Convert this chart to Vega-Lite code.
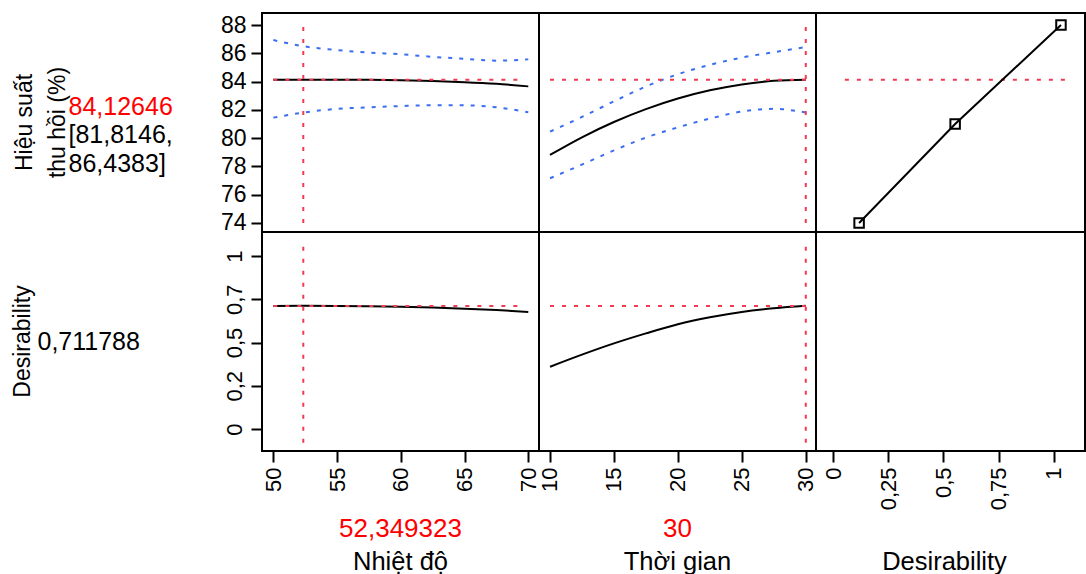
{
  "$schema": "https://vega.github.io/schema/vega-lite/v6.json",
  "padding": {"left": 0, "top": 12, "right": 0, "bottom": 0},
  "background": "white",
  "config": {
    "font": "Liberation Sans",
    "view": {"stroke": "#000000", "strokeWidth": 2},
    "axis": {"domain": false, "grid": false, "ticks": true, "tickColor": "#000000", "tickWidth": 2, "tickSize": 11, "labelPadding": 5, "labelFont": "Liberation Sans", "labelFontSize": 22, "labelColor": "#000000", "labelFlush": false, "labelOverlap": false, "titleFont": "Liberation Sans", "titleFontWeight": "normal", "titleColor": "#000000"}
  },
  "datasets": {
    "nhietdo": [
      {"nhiet_do": 50, "hieu_suat": 84.12, "can_duoi": 81.45, "can_tren": 86.94, "desirability": 0.711},
      {"nhiet_do": 52.35, "hieu_suat": 84.13, "can_duoi": 81.81, "can_tren": 86.5, "desirability": 0.712},
      {"nhiet_do": 55, "hieu_suat": 84.13, "can_duoi": 82.07, "can_tren": 86.23, "desirability": 0.711},
      {"nhiet_do": 57.5, "hieu_suat": 84.12, "can_duoi": 82.18, "can_tren": 86.05, "desirability": 0.71},
      {"nhiet_do": 60, "hieu_suat": 84.09, "can_duoi": 82.27, "can_tren": 85.93, "desirability": 0.707},
      {"nhiet_do": 62.5, "hieu_suat": 84.04, "can_duoi": 82.32, "can_tren": 85.75, "desirability": 0.702},
      {"nhiet_do": 65, "hieu_suat": 83.96, "can_duoi": 82.32, "can_tren": 85.61, "desirability": 0.696},
      {"nhiet_do": 67.5, "hieu_suat": 83.84, "can_duoi": 82.18, "can_tren": 85.48, "desirability": 0.688},
      {"nhiet_do": 70, "hieu_suat": 83.66, "can_duoi": 81.83, "can_tren": 85.57, "desirability": 0.677}
    ],
    "thoigian": [
      {"thoi_gian": 10, "hieu_suat": 78.81, "can_duoi": 77.16, "can_tren": 80.46, "desirability": 0.36},
      {"thoi_gian": 12.5, "hieu_suat": 80.06, "can_duoi": 78.13, "can_tren": 81.5, "desirability": 0.43},
      {"thoi_gian": 15, "hieu_suat": 81.14, "can_duoi": 79.13, "can_tren": 82.6, "desirability": 0.495},
      {"thoi_gian": 17.5, "hieu_suat": 82.05, "can_duoi": 80.04, "can_tren": 83.65, "desirability": 0.553},
      {"thoi_gian": 20, "hieu_suat": 82.8, "can_duoi": 80.76, "can_tren": 84.52, "desirability": 0.606},
      {"thoi_gian": 22.5, "hieu_suat": 83.38, "can_duoi": 81.38, "can_tren": 85.18, "desirability": 0.646},
      {"thoi_gian": 25, "hieu_suat": 83.8, "can_duoi": 81.88, "can_tren": 85.7, "desirability": 0.677},
      {"thoi_gian": 27.5, "hieu_suat": 84.05, "can_duoi": 82.07, "can_tren": 86.08, "desirability": 0.698},
      {"thoi_gian": 30, "hieu_suat": 84.13, "can_duoi": 81.81, "can_tren": 86.44, "desirability": 0.712}
    ],
    "hamd": [
      {"desirability": 0.1175, "hieu_suat": 74},
      {"desirability": 0.553, "hieu_suat": 81},
      {"desirability": 1.033, "hieu_suat": 88}
    ],
    "hientai": [
      {"nhiet_do": 52.349323, "thoi_gian": 30, "hieu_suat": 84.12646, "desirability": 0.711788}
    ]
  },
  "bounds": "flush",
  "columns": 4,
  "spacing": 0,
  "concat": [
    {
      "width": 262, "height": 219, "view": {"stroke": null, "fill": "transparent"},
      "resolve": {"scale": {"x": "independent", "y": "independent", "color": "independent"}},
      "layer": [
        {
          "data": {"values": [{"dong": 1, "nhan": "Hiệu suất"}, {"dong": 2, "nhan": "thu hồi (%)"}]},
          "mark": {"type": "text", "angle": 270, "align": "center", "baseline": "middle", "fontSize": 23, "color": "#000000"},
          "encoding": {
            "x": {"field": "dong", "type": "ordinal", "scale": {"type": "point", "range": [25, 57.5], "padding": 0}, "axis": null},
            "text": {"field": "nhan"}
          }
        },
        {
          "data": {"values": [
            {"dong": 1, "nhan": "84,12646", "loai": "du_doan"},
            {"dong": 2, "nhan": "[81,8146,", "loai": "khoang"},
            {"dong": 3, "nhan": "86,4383]", "loai": "khoang"}
          ]},
          "mark": {"type": "text", "align": "left", "baseline": "middle", "fontSize": 25},
          "encoding": {
            "x": {"datum": 0.2615, "type": "quantitative", "scale": {"domain": [0, 1]}, "axis": null},
            "y": {"field": "dong", "type": "ordinal", "scale": {"type": "point", "range": [93.5, 150.5], "padding": 0}, "axis": null},
            "text": {"field": "nhan"},
            "color": {"field": "loai", "type": "nominal", "scale": {"domain": ["du_doan", "khoang"], "range": ["#ff0000", "#000000"]}, "legend": null}
          }
        }
      ]
    },
    {
      "width": 277, "height": 219,
      "layer": [
        {"data": {"name": "nhietdo"}, "mark": {"type": "line", "color": "#3a6ef2", "strokeDash": [4, 7], "strokeWidth": 2, "interpolate": "monotone"},
         "encoding": {
           "x": {"field": "nhiet_do", "type": "quantitative", "scale": {"domain": [49.11, 70.84], "nice": false, "zero": false}, "axis": null},
           "y": {"field": "can_tren", "type": "quantitative", "scale": {"domain": [73.36, 88.85], "nice": false, "zero": false}, "axis": {"title": null, "values": [74, 76, 78, 80, 82, 84, 86, 88], "tickCount": 12, "labelFontSize": 23, "labelOverlap": false}}}},
        {"data": {"name": "nhietdo"}, "mark": {"type": "line", "color": "#3a6ef2", "strokeDash": [4, 7], "strokeWidth": 2, "interpolate": "monotone"},
         "encoding": {"x": {"field": "nhiet_do", "type": "quantitative"}, "y": {"field": "can_duoi", "type": "quantitative"}}},
        {"data": {"name": "nhietdo"}, "mark": {"type": "line", "color": "#000000", "strokeWidth": 2, "interpolate": "monotone"},
         "encoding": {"x": {"field": "nhiet_do", "type": "quantitative"}, "y": {"field": "hieu_suat", "type": "quantitative"}}},
        {"data": {"name": "hientai"}, "mark": {"type": "rule", "color": "#f23a50", "strokeDash": [4, 8], "strokeWidth": 2},
         "encoding": {"x": {"field": "nhiet_do", "type": "quantitative"}, "y": {"datum": 74}, "y2": {"datum": 88}}},
        {"data": {"name": "hientai"}, "mark": {"type": "rule", "color": "#f23a50", "strokeDash": [4, 8], "strokeWidth": 2},
         "encoding": {"y": {"field": "hieu_suat", "type": "quantitative"}, "x": {"datum": 50}, "x2": {"datum": 69.5}}}
      ]
    },
    {
      "width": 277, "height": 219,
      "layer": [
        {"data": {"name": "thoigian"}, "mark": {"type": "line", "color": "#3a6ef2", "strokeDash": [4, 7], "strokeWidth": 2, "interpolate": "monotone"},
         "encoding": {
           "x": {"field": "thoi_gian", "type": "quantitative", "scale": {"domain": [9.14, 30.8], "nice": false, "zero": false}, "axis": null},
           "y": {"field": "can_tren", "type": "quantitative", "scale": {"domain": [73.36, 88.85], "nice": false, "zero": false}, "axis": null}}},
        {"data": {"name": "thoigian"}, "mark": {"type": "line", "color": "#3a6ef2", "strokeDash": [4, 7], "strokeWidth": 2, "interpolate": "monotone"},
         "encoding": {"x": {"field": "thoi_gian", "type": "quantitative"}, "y": {"field": "can_duoi", "type": "quantitative"}}},
        {"data": {"name": "thoigian"}, "mark": {"type": "line", "color": "#000000", "strokeWidth": 2, "interpolate": "monotone"},
         "encoding": {"x": {"field": "thoi_gian", "type": "quantitative"}, "y": {"field": "hieu_suat", "type": "quantitative"}}},
        {"data": {"name": "hientai"}, "mark": {"type": "rule", "color": "#f23a50", "strokeDash": [4, 8], "strokeWidth": 2},
         "encoding": {"x": {"field": "thoi_gian", "type": "quantitative"}, "y": {"datum": 74}, "y2": {"datum": 88}}},
        {"data": {"name": "hientai"}, "mark": {"type": "rule", "color": "#f23a50", "strokeDash": [4, 8], "strokeWidth": 2},
         "encoding": {"y": {"field": "hieu_suat", "type": "quantitative"}, "x": {"datum": 10}, "x2": {"datum": 30}}}
      ]
    },
    {
      "width": 269, "height": 219,
      "layer": [
        {"data": {"name": "hientai"}, "mark": {"type": "rule", "color": "#f23a50", "strokeDash": [4, 8], "strokeWidth": 2},
         "encoding": {
           "y": {"field": "hieu_suat", "type": "quantitative", "scale": {"domain": [73.36, 88.85], "nice": false, "zero": false}, "axis": null},
           "x": {"datum": 0.053, "type": "quantitative", "scale": {"domain": [-0.078, 1.142], "nice": false, "zero": false}, "axis": null},
           "x2": {"datum": 1.055}}},
        {"data": {"name": "hamd"}, "mark": {"type": "line", "color": "#000000", "strokeWidth": 2},
         "encoding": {"x": {"field": "desirability", "type": "quantitative"}, "y": {"field": "hieu_suat", "type": "quantitative"}}},
        {"data": {"name": "hamd"}, "mark": {"type": "point", "shape": "square", "filled": false, "color": "#000000", "strokeWidth": 2, "size": 90, "opacity": 1},
         "encoding": {"x": {"field": "desirability", "type": "quantitative"}, "y": {"field": "hieu_suat", "type": "quantitative"}}}
      ]
    },
    {
      "width": 262, "height": 219, "view": {"stroke": null, "fill": "transparent"},
      "resolve": {"scale": {"x": "independent", "y": "independent"}},
      "layer": [
        {
          "data": {"values": [{"nhan": "Desirability"}]},
          "mark": {"type": "text", "angle": 270, "align": "center", "baseline": "middle", "fontSize": 23, "color": "#000000"},
          "encoding": {
            "x": {"datum": 0.0885, "type": "quantitative", "scale": {"domain": [0, 1]}, "axis": null},
            "y": {"datum": 0.5, "type": "quantitative", "scale": {"domain": [0, 1]}, "axis": null},
            "text": {"field": "nhan"}
          }
        },
        {
          "data": {"values": [{"nhan": "0,711788"}]},
          "mark": {"type": "text", "align": "left", "baseline": "middle", "fontSize": 25, "color": "#000000"},
          "encoding": {
            "x": {"datum": 0.1431, "type": "quantitative", "scale": {"domain": [0, 1]}, "axis": null},
            "y": {"datum": 0.5, "type": "quantitative", "scale": {"domain": [0, 1]}, "axis": null},
            "text": {"field": "nhan"}
          }
        }
      ]
    },
    {
      "width": 277, "height": 219,
      "layer": [
        {"data": {"name": "nhietdo"}, "mark": {"type": "line", "color": "#000000", "strokeWidth": 2, "interpolate": "monotone"},
         "encoding": {
           "x": {"field": "nhiet_do", "type": "quantitative", "scale": {"domain": [49.11, 70.84], "nice": false, "zero": false}, "axis": {"title": null, "values": [50, 55, 60, 65, 70], "tickCount": 10, "labelAngle": 270, "labelOverlap": false}},
           "y": {"field": "desirability", "type": "quantitative", "scale": {"domain": [-0.127, 1.139], "nice": false, "zero": false}, "axis": {"title": null, "values": [0, 0.25, 0.5, 0.75, 1], "tickCount": 10, "labelAngle": 270, "labelOverlap": false, "labelExpr": "replace(slice(format(datum.value, '~g'), 0, 3), '.', ',')"}}}},
        {"data": {"name": "hientai"}, "mark": {"type": "rule", "color": "#f23a50", "strokeDash": [4, 8], "strokeWidth": 2},
         "encoding": {"x": {"field": "nhiet_do", "type": "quantitative"}, "y": {"datum": -0.08}, "y2": {"datum": 1.07}}},
        {"data": {"name": "hientai"}, "mark": {"type": "rule", "color": "#f23a50", "strokeDash": [4, 8], "strokeWidth": 2},
         "encoding": {"y": {"field": "desirability", "type": "quantitative"}, "x": {"datum": 50}, "x2": {"datum": 69.5}}}
      ]
    },
    {
      "width": 277, "height": 219,
      "layer": [
        {"data": {"name": "thoigian"}, "mark": {"type": "line", "color": "#000000", "strokeWidth": 2, "interpolate": "monotone"},
         "encoding": {
           "x": {"field": "thoi_gian", "type": "quantitative", "scale": {"domain": [9.14, 30.8], "nice": false, "zero": false}, "axis": {"title": null, "values": [10, 15, 20, 25, 30], "tickCount": 10, "labelAngle": 270, "labelOverlap": false}},
           "y": {"field": "desirability", "type": "quantitative", "scale": {"domain": [-0.127, 1.139], "nice": false, "zero": false}, "axis": null}}},
        {"data": {"name": "hientai"}, "mark": {"type": "rule", "color": "#f23a50", "strokeDash": [4, 8], "strokeWidth": 2},
         "encoding": {"x": {"field": "thoi_gian", "type": "quantitative"}, "y": {"datum": -0.08}, "y2": {"datum": 1.07}}},
        {"data": {"name": "hientai"}, "mark": {"type": "rule", "color": "#f23a50", "strokeDash": [4, 8], "strokeWidth": 2},
         "encoding": {"y": {"field": "desirability", "type": "quantitative"}, "x": {"datum": 10}, "x2": {"datum": 30}}}
      ]
    },
    {
      "width": 269, "height": 219,
      "data": {"values": []},
      "mark": "point",
      "encoding": {
        "x": {"field": "desirability", "type": "quantitative", "scale": {"domain": [-0.078, 1.142], "nice": false, "zero": false}, "axis": {"title": null, "values": [0, 0.25, 0.5, 0.75, 1], "tickCount": 10, "labelAngle": 270, "labelOverlap": false, "labelExpr": "replace(format(datum.value, '~g'), '.', ',')"}}
      }
    },
    {
      "width": 262, "height": 123, "view": {"stroke": null},
      "data": {"values": [{"nhan": ""}]},
      "mark": {"type": "text"},
      "encoding": {"text": {"field": "nhan"}}
    },
    {
      "width": 277, "height": 123, "view": {"stroke": null},
      "data": {"values": [
        {"dong": 1, "nhan": "52,349323", "loai": "gia_tri"},
        {"dong": 2, "nhan": "Nhiệt độ", "loai": "ten"}
      ]},
      "mark": {"type": "text", "baseline": "middle"},
      "encoding": {
        "y": {"field": "dong", "type": "ordinal", "scale": {"type": "point", "domain": [1, 2], "range": [78, 110.5], "padding": 0}, "axis": null},
        "text": {"field": "nhan"},
        "color": {"field": "loai", "type": "nominal", "scale": {"domain": ["gia_tri", "ten"], "range": ["#ff0000", "#000000"]}, "legend": null},
        "size": {"field": "loai", "type": "nominal", "scale": {"domain": ["gia_tri", "ten"], "range": [26, 25.5]}, "legend": null}
      }
    },
    {
      "width": 277, "height": 123, "view": {"stroke": null},
      "data": {"values": [
        {"dong": 1, "nhan": "30", "loai": "gia_tri"},
        {"dong": 2, "nhan": "Thời gian", "loai": "ten"}
      ]},
      "mark": {"type": "text", "baseline": "middle"},
      "encoding": {
        "y": {"field": "dong", "type": "ordinal", "scale": {"type": "point", "domain": [1, 2], "range": [78, 110.5], "padding": 0}, "axis": null},
        "text": {"field": "nhan"},
        "color": {"field": "loai", "type": "nominal", "scale": {"domain": ["gia_tri", "ten"], "range": ["#ee3a4f", "#000000"]}, "legend": null},
        "size": {"field": "loai", "type": "nominal", "scale": {"domain": ["gia_tri", "ten"], "range": [26, 25.5]}, "legend": null}
      }
    },
    {
      "width": 257, "height": 123, "view": {"stroke": null},
      "data": {"values": [
        {"dong": 2, "nhan": "Desirability", "loai": "ten"}
      ]},
      "mark": {"type": "text", "baseline": "middle", "fontSize": 25.5, "color": "#000000"},
      "encoding": {
        "y": {"field": "dong", "type": "ordinal", "scale": {"type": "point", "domain": [1, 2], "range": [78, 110.5], "padding": 0}, "axis": null},
        "text": {"field": "nhan"}
      }
    }
  ]
}
